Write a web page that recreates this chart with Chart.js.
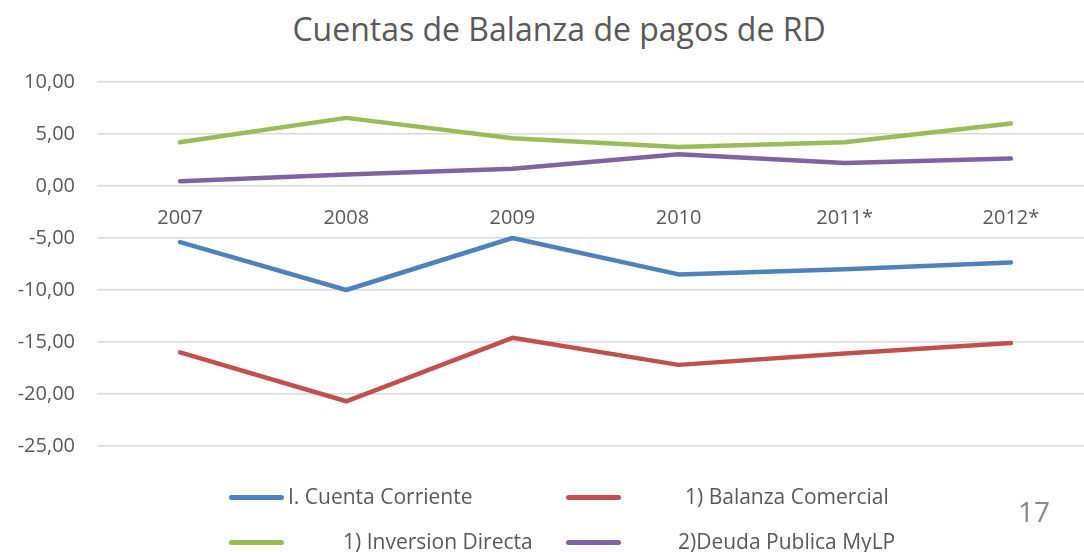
<!DOCTYPE html>
<html><head><meta charset="utf-8">
<script src="https://cdn.jsdelivr.net/npm/chart.js@4"></script>
<style>
html,body{margin:0;padding:0;width:1084px;height:552px;overflow:hidden;background:#fff;font-family:'Open Sans',sans-serif;}
#wrap{position:absolute;left:0;top:0;width:1094px;height:552px;}
#title{position:absolute;left:259px;width:600px;top:13px;text-align:center;font-size:32px;line-height:32px;color:#595959;white-space:nowrap;}
.lg-line{position:absolute;width:55px;height:5px;border-radius:3px;}
.lg-text{position:absolute;font-size:21px;line-height:21px;color:#595959;white-space:nowrap;}
#page{position:absolute;left:1018px;top:497px;font-size:28px;line-height:28px;color:#8a8a8a;}
</style></head>
<body>
<div id="title">Cuentas de Balanza de pagos de RD</div>
<div id="wrap"><canvas id="c" width="1094" height="552"></canvas></div>
<div id="legend"></div>
<div id="page">17</div>
<script>
const categories = ['2007','2008','2009','2010','2011*','2012*'];
const seriesNames = ['I. Cuenta Corriente','1) Balanza Comercial','1) Inversion Directa','2)Deuda Publica MyLP'];
const cuentaCorriente = [-5.4, -10.0, -5.0, -8.5, -8.0, -7.35];
const balanzaComercial = [-16.0, -20.7, -14.6, -17.2, -16.1, -15.1];
const inversionDirecta = [4.2, 6.55, 4.6, 3.75, 4.2, 6.0];
const deudaPublica = [0.45, 1.1, 1.65, 3.05, 2.2, 2.65];
const yTicks = [-25, -20, -15, -10, -5, 0, 5, 10];
const colors = ['#4f81bd','#c0504d','#9bbb59','#8064a2'];

const allSeries = [cuentaCorriente, balanzaComercial, inversionDirecta, deudaPublica];
const datasets = allSeries.map((d,i)=>({
  label: seriesNames[i], data: d, borderColor: colors[i], backgroundColor: colors[i],
  borderWidth: 4.5, pointRadius: 0, tension: 0, borderCapStyle:'round', borderJoinStyle:'round', fill:false
}));

// legend layout (Excel-like slots)
const slots = [
  {lx:229, ly:495, tx:288, ty:486},
  {lx:566, ly:495, tx:685, ty:486},
  {lx:229, ly:540, tx:343, ty:531},
  {lx:566, ly:540, tx:678, ty:531}
];
const lg = document.getElementById('legend');
seriesNames.forEach((n,i)=>{
  const s = slots[i];
  const l = document.createElement('div'); l.className='lg-line';
  l.style.left=s.lx+'px'; l.style.top=s.ly+'px'; l.style.background=colors[i]; lg.appendChild(l);
  const t = document.createElement('div'); t.className='lg-text';
  t.style.left=s.tx+'px'; t.style.top=s.ty+'px'; t.textContent=n; lg.appendChild(t);
});

new Chart(document.getElementById('c'), {
  type:'line',
  data:{labels:categories, datasets},
  options:{
    responsive:false, animation:false,
    layout:{padding:{top:82,bottom:106,left:0,right:0}},
    plugins:{legend:{display:false}, title:{display:false}, tooltip:{enabled:false}},
    scales:{
      x:{
        position:{y:0}, offset:true,
        grid:{display:false}, border:{display:false},
        ticks:{color:'#595959', font:{family:'Open Sans', size:20}, padding:12, maxRotation:0}
      },
      y:{
        min:-25, max:10,
        afterFit:(s)=>{ s.width = 97; },
        afterBuildTicks:(s)=>{ s.ticks = yTicks.map(v=>({value:v})); },
        grid:{color:'#d9d9d9', lineWidth:1.5, drawTicks:false},
        border:{display:false},
        ticks:{color:'#595959', font:{family:'Open Sans', size:20}, padding:22,
          callback:(v)=>v.toFixed(2).replace('.',',')}
      }
    }
  }
});
</script>
</body></html>
